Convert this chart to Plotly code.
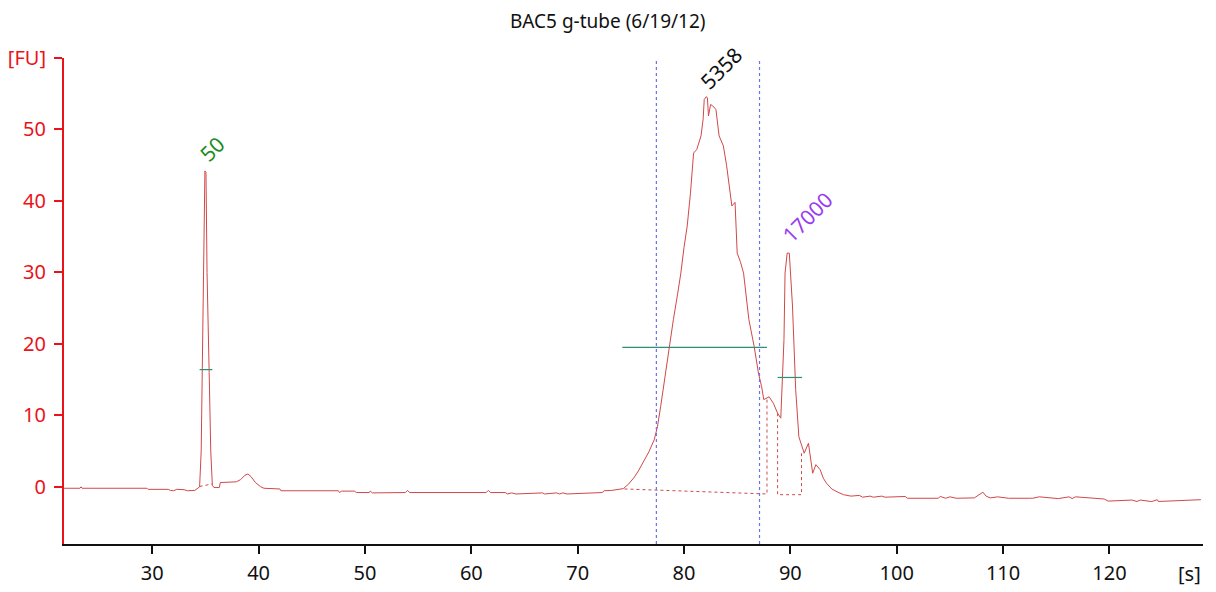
"""Electropherogram of BAC5 g-tube run (6/19/12), redrawn with plotly."""

import plotly.graph_objects as go

# migration time [s] and fluorescence [FU]
TIME = [
    21.7, 23.2, 23.3, 23.4, 29.5, 29.6, 31.5, 31.7, 32.0, 32.3, 33.0, 33.3, 34.0, 34.2,
    34.45, 34.6, 34.8, 34.95, 35.05, 35.15, 35.35, 35.5, 35.65, 35.8, 36.3, 36.4, 37.9,
    38.3, 38.7, 39.0, 39.3, 39.7, 40.2, 40.5, 42.0, 42.1, 47.5, 47.6, 47.8, 49.0, 49.2,
    50.4, 50.5, 50.7, 53.8, 54.0, 54.2, 61.4, 61.6, 61.8, 63.2, 63.4, 63.8, 64.2, 66.7,
    66.9, 68.0, 68.3, 68.6, 69.0, 72.3, 72.5, 73.2, 73.8, 74.3, 74.8, 75.3, 75.7, 76.2,
    76.7, 77.2, 77.5, 77.8, 78.1, 78.4, 78.7, 79.0, 79.4, 79.7, 80.0, 80.3, 80.6, 80.9,
    81.2, 81.6, 81.8, 81.9, 82.1, 82.2, 82.3, 82.5, 82.7, 83.0, 83.3, 83.7, 84.0, 84.2,
    84.5, 84.8, 85.0, 85.3, 85.6, 86.1, 86.6, 87.0, 87.3, 87.5, 88.0, 88.4, 88.6, 88.8,
    89.1, 89.4, 89.5, 89.7, 89.9, 90.2, 90.5, 90.8, 91.3, 91.7, 92.1, 92.4, 92.8, 93.1,
    93.4, 93.9, 94.4, 95.0, 95.7, 96.5, 96.8, 97.5, 97.8, 98.6, 98.9, 100.8, 101.0,
    103.9, 104.1, 104.6, 105.0, 105.6, 107.3, 107.6, 108.1, 108.4, 108.8, 109.5, 110.5,
    112.5, 112.8, 113.4, 115.0, 115.2, 116.2, 116.5, 116.8, 119.3, 119.5, 119.9, 121.9,
    122.1, 122.6, 122.9, 123.9, 124.0, 124.5, 124.6, 128.6,
]
FU = [
    -0.2, -0.2, 0.0, -0.2, -0.2, -0.35, -0.35, -0.5, -0.55, -0.35, -0.4, -0.55, -0.5, -0.3,
    0.0, 5.0, 30.0, 44.2, 44.0, 30.0, 16.0, 5.0, 0.2, -0.1, -0.1, 0.6, 0.7,
    1.0, 1.6, 1.8, 1.4, 0.6, 0.0, -0.2, -0.3, -0.55, -0.55, -0.8, -0.6, -0.6, -0.8,
    -0.8, -0.6, -0.85, -0.8, -0.5, -0.8, -0.8, -0.5, -0.8, -0.8, -1.0, -0.85, -1.0, -0.85,
    -1.0, -0.85, -1.0, -0.85, -1.0, -0.8, -0.55, -0.5, -0.4, -0.25, 0.4, 1.3, 2.2, 3.6,
    4.9, 6.6, 8.4, 11.2, 14.2, 17.8, 20.5, 23.4, 27.0, 29.9, 33.5, 36.5, 41.0, 46.7,
    47.2, 49.1, 51.5, 54.2, 54.6, 54.4, 51.9, 53.5, 53.3, 52.8, 49.1, 47.7, 45.0, 43.0,
    39.3, 39.8, 32.7, 31.5, 29.9, 23.4, 19.6, 15.9, 14.0, 12.2, 12.6, 11.7, 11.0, 10.3,
    9.6, 20.6, 29.9, 32.7, 32.7, 25.3, 13.6, 7.0, 4.7, 6.1, 1.9, 3.1, 2.4, 1.2,
    0.5, -0.3, -0.7, -1.1, -1.3, -1.2, -1.45, -1.3, -1.45, -1.3, -1.45, -1.35, -1.6,
    -1.6, -1.35, -1.6, -1.4, -1.6, -1.55, -1.2, -0.75, -1.3, -1.55, -1.4, -1.6, -1.6,
    -1.6, -1.4, -1.65, -1.65, -1.4, -1.65, -1.4, -1.7, -1.7, -2.0, -1.85, -1.85,
    -2.05, -1.85, -2.05, -2.05, -1.8, -2.05, -1.8, -2.1,
]

# dotted baselines drawn under the integrated peaks
BASE_LOWER_T = [34.45, 35.65]
BASE_LOWER_FU = [0.05, 0.4]
BASE_MAIN_T = [74.4, 87.8, 87.8]
BASE_MAIN_FU = [-0.3, -1.0, 12.6]
BASE_UPPER_T = [88.8, 88.8, 91.05, 91.05]
BASE_UPPER_FU = [10.3, -1.1, -1.1, 4.7]

# peak width bars (green)
WIDTH_START = [34.45, 74.2, 88.8]
WIDTH_END = [35.65, 87.8, 91.1]
WIDTH_LEVEL = [16.4, 19.5, 15.3]

# region limits (blue dotted)
REGION_LIMITS = [77.4, 87.1]

# peak size labels
PEAK_LABELS = ["50", "5358", "17000"]
LABEL_TIME = [35.6, 83.5, 91.6]
LABEL_FU = [47.3, 58.6, 37.8]
LABEL_COLORS = ["#1e8c1e", "#111111", "#9a3cf0"]

X_TICKS = [30, 40, 50, 60, 70, 80, 90, 100, 110, 120]
Y_TICKS = [0, 10, 20, 30, 40, 50, 60]
Y_TICK_TEXT = ["0", "10", "20", "30", "40", "50", "[FU]"]

TITLE = "BAC5 g-tube (6/19/12)"
FONT = "Noto Sans"
TRACE_RED = "#d04848"
AXIS_RED = "#e8141a"


def main():
    fig = go.Figure()

    fig.add_trace(go.Scatter(x=TIME, y=FU, mode="lines",
                             line=dict(color=TRACE_RED, width=1), hoverinfo="x+y"))
    for bt, bf in [(BASE_LOWER_T, BASE_LOWER_FU), (BASE_MAIN_T, BASE_MAIN_FU),
                   (BASE_UPPER_T, BASE_UPPER_FU)]:
        fig.add_trace(go.Scatter(x=bt, y=bf, mode="lines",
                                 line=dict(color=TRACE_RED, width=1, dash="dot"),
                                 hoverinfo="skip"))

    for x0, x1, lvl in zip(WIDTH_START, WIDTH_END, WIDTH_LEVEL):
        fig.add_trace(go.Scatter(x=[x0, x1], y=[lvl, lvl], mode="lines",
                                 line=dict(color="#2f8f74", width=1.2), hoverinfo="skip"))

    for xr in REGION_LIMITS:
        fig.add_shape(type="line", x0=xr, x1=xr, y0=-8, y1=60.4, xref="x", yref="y",
                      line=dict(color="#6f6fe8", width=1.2, dash="dot"))

    for txt, lx, ly, col in zip(PEAK_LABELS, LABEL_TIME, LABEL_FU, LABEL_COLORS):
        fig.add_annotation(x=lx, y=ly, text=txt, showarrow=False, textangle=-45,
                           font=dict(family=FONT, size=21, color=col))

    # title placed as a paper annotation so it sits just under the top edge
    fig.add_annotation(x=0.478, xref="paper", y=1, yref="paper", yanchor="middle",
                       yshift=37, text=TITLE, showarrow=False,
                       font=dict(family=FONT, size=19, color="#111111"))

    # unit label at the end of the time axis
    fig.add_annotation(x=1.0, xref="paper", y=0, yref="paper", yanchor="top",
                       yshift=-14, text="[s]", showarrow=False,
                       font=dict(family=FONT, size=20, color="#111111"))

    fig.update_xaxes(range=[21.7, 128.8], tickvals=X_TICKS, ticks="outside", ticklen=8,
                     tickwidth=2, tickcolor="#111111", showline=True, linecolor="#111111",
                     linewidth=2, showgrid=False, zeroline=False, ticklabelstandoff=2,
                     automargin=False,
                     tickfont=dict(family=FONT, size=20, color="#111111"))
    fig.update_yaxes(range=[-8, 60], tickvals=Y_TICKS, ticktext=Y_TICK_TEXT,
                     ticks="outside", ticklen=8, tickwidth=2, tickcolor=AXIS_RED,
                     showline=True, linecolor=AXIS_RED, linewidth=2, showgrid=False,
                     zeroline=False, ticklabelstandoff=4, automargin=False,
                     tickfont=dict(family=FONT, size=20, color=AXIS_RED))

    # the page puts the figure 8 px in from the top-left corner
    fig.update_layout(
        width=1208, height=584,
        margin=dict(l=56, r=13, t=50, b=48),
        plot_bgcolor="white", paper_bgcolor="white",
        showlegend=False,
    )

    fig.write_html("out.html")


if __name__ == "__main__":
    main()
